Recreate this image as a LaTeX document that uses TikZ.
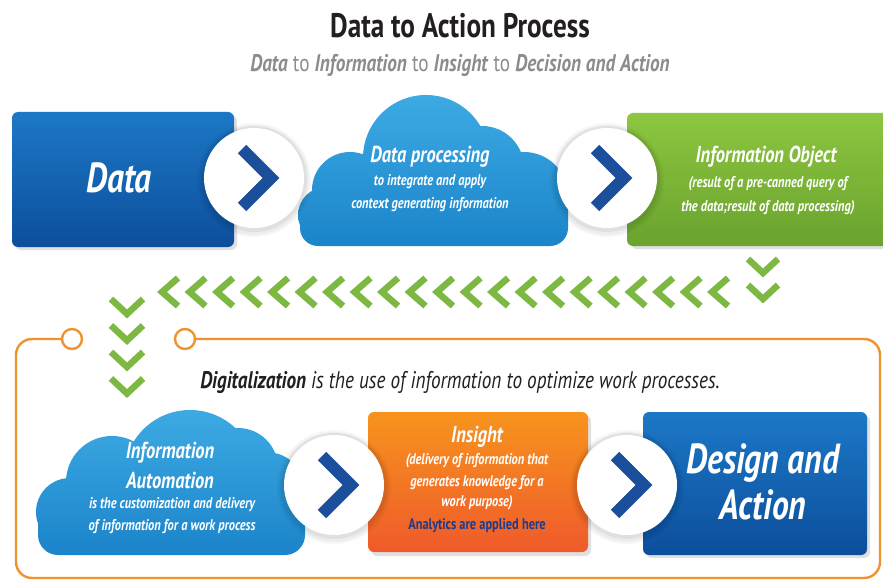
\documentclass[tikz,border=0pt]{standalone}
\usepackage{fontspec}
\setmainfont{PT Sans}[FakeStretch=0.8]
\definecolor{titlec}{HTML}{231F20}
\definecolor{subc}{HTML}{8C8C8C}
\definecolor{dblueT}{HTML}{1C78C6}
\definecolor{dblueB}{HTML}{0C4E9C}
\definecolor{cloudT}{HTML}{3DAAE3}
\definecolor{cloudB}{HTML}{1B84CA}
\definecolor{greenT}{HTML}{8DC63F}
\definecolor{greenB}{HTML}{6AA32E}
\definecolor{orangeT}{HTML}{F7941D}
\definecolor{orangeB}{HTML}{EF5A2B}
\definecolor{chevblue}{HTML}{1B4E9B}
\definecolor{chevgreen}{HTML}{7DB843}
\definecolor{framec}{HTML}{F0922E}
\definecolor{analc}{HTML}{1E3C8C}
\newcommand\myfs[1]{\fontsize{#1}{#1}\selectfont}
\tikzset{
  boxshadow/.style={fill=black, opacity=0.12, rounded corners=6pt},
  bluebox/.style={top color=dblueT, bottom color=dblueB, rounded corners=6pt},
  greenbox/.style={top color=greenT, bottom color=greenB, rounded corners=6pt},
  orangebox/.style={top color=orangeT, bottom color=orangeB, rounded corners=6pt},
  cloudfill/.style={top color=cloudT, bottom color=cloudB},
  chevb/.style={draw=chevblue, line width=12pt, miter limit=10, line join=miter},
  chevg/.style={draw=chevgreen, line width=6.5pt, line join=miter, miter limit=10},
  frame/.style={draw=framec, line width=2.4pt},
  big/.style={text=white, font=\bfseries\itshape\myfs{23}, inner sep=0pt},
  small/.style={text=white, font=\bfseries\itshape\myfs{15.5}, inner sep=0pt},
  huge/.style={text=white, font=\bfseries\itshape\myfs{42}, inner sep=0pt},
}
\newcommand\btn[2]{%
  \fill[black, opacity=0.03] (#1,#2+2) circle (57);
  \fill[black, opacity=0.04] (#1,#2+2) circle (55);
  \fill[black, opacity=0.05] (#1,#2+1) circle (53);
  \fill[white] (#1,#2) circle (50);
  \draw[chevb] (#1-12,#2-29) -- (#1+17,#2) -- (#1-12,#2+29);
}
\begin{document}
\begin{tikzpicture}[x=1pt,y=-1pt]
\useasboundingbox (0,0) rectangle (883,583);
\fill[white] (0,0) rectangle (883,583);

% title
\node[font=\bfseries\myfs{34}, text=titlec, inner sep=0pt] (title) at (460,26) {Data to Action Process};
\node[font=\myfs{24}, text=subc, inner sep=0pt] (subtitle) at (460,65)
  {\textbf{\textit{Data}} to \textbf{\textit{Information}} to \textbf{\textit{Insight}} to \textbf{\textit{Decision and Action}}};

% ---- top row
\fill[boxshadow] (15,115) rectangle (237,250);
\shade[bluebox] (12,112) rectangle (234,247);
\node[huge] (data) at (119,178) {Data};

\shade[cloudfill] [rounded corners=18pt] (300,192) -- (568,192) -- (568,246) -- (300,246) -- cycle
  [sharp corners] (426,158) circle (63) (350,190) circle (38) (326,215) circle (28)
  (524,196) circle (44) (482,168) circle (42);
\node[big] (dp1) at (430,157) {Data processing};
\node[small] (dp2) at (430,182) {to integrate and apply};
\node[small] (dp3) at (430,205) {context generating information};

\fill[boxshadow] (631,116) rectangle (890,249);
\shade[greenbox] (627,113) rectangle (890,246);
\node[big] (io1) at (766,157) {Information Object};
\node[small] (io2) at (768,184) {(result of a pre-canned query of};
\node[small] (io3) at (768,208) {the data;result of data processing)};

\btn{254}{178}
\btn{607}{178}

% ---- green chevrons
\foreach \i in {0,...,20} {
  \draw[chevg] (162+27.5*\i+16,278) -- (162+27.5*\i,292) -- (162+27.5*\i+16,306);
}
\foreach \yy in {259,285} {
  \draw[chevg] (748,\yy) -- (763,\yy+14) -- (778,\yy);
}
\foreach \yy in {299,325.5,352,378.5} {
  \draw[chevg] (111,\yy) -- (127,\yy+15) -- (143,\yy);
}

% ---- orange frame
\draw[frame] (72,339) circle (10);
\draw[frame] (185,339) circle (10);
\draw[frame, rounded corners=16pt] (62,339) -- (16,339) -- (16,578) -- (880,578) -- (880,339) -- (195,339);

\node[font=\itshape\myfs{24}, text=titlec, inner sep=0pt] (digi) at (460,382)
  {\textbf{Digitalization} is the use of information to optimize work processes.};

% ---- bottom row
\shade[cloudfill] [rounded corners=20pt] (38,492) -- (305,492) -- (305,555) -- (38,555) -- cycle
  [sharp corners] (190,476) circle (66) (112,482) circle (46) (70,512) circle (34)
  (266,492) circle (40) (238,468) circle (40);
\node[big] (ia1) at (170,453) {Information};
\node[big] (ia2) at (170,480) {Automation};
\node[small] (ia3) at (172,505) {is the customization and delivery};
\node[small] (ia4) at (172,527) {of information for a work process};

\fill[boxshadow] (371,415) rectangle (591,556);
\shade[orangebox] (368,412) rectangle (588,552);
\node[big] (in1) at (477,437) {Insight};
\node[small] (in2) at (477,461) {(delivery of information that};
\node[small] (in3) at (477,483) {generates knowledge for a};
\node[small] (in4) at (477,503) {work purpose)};
\node[small, text=analc, font=\bfseries\myfs{15.5}] (in5) at (477,526) {Analytics are applied here};

\fill[boxshadow] (646,415) rectangle (870,558);
\shade[bluebox] (643,412) rectangle (867,555);
\node[huge] (da1) at (763,463) {Design and};
\node[huge] (da2) at (763,505) {Action};

\btn{334}{485}
\btn{627}{485}
\end{tikzpicture}
\end{document}
